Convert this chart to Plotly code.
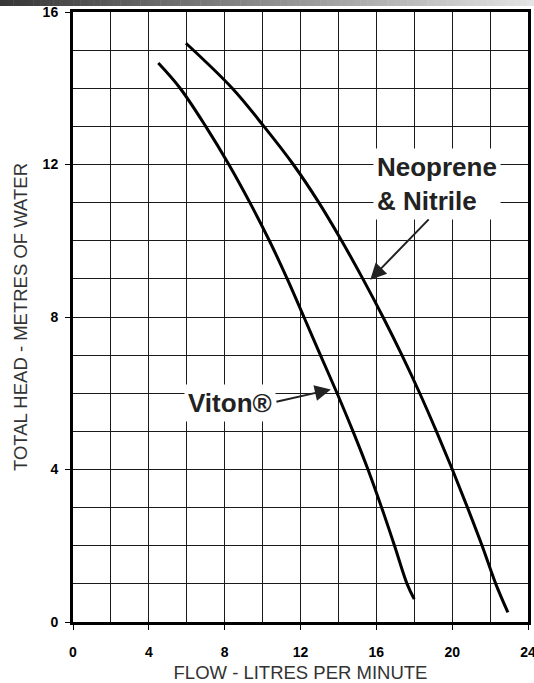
import plotly.graph_objects as go

# ---- data ----
neoprene_flow = [5.96, 8.40, 10.07, 11.62, 12.97, 14.17, 15.29, 16.35, 17.35, 18.29, 19.17, 20.01, 20.81, 21.58, 22.30, 22.94]
neoprene_head = [15.18, 14.0, 13.0, 12.0, 11.0, 10.0, 9.0, 8.0, 7.0, 6.0, 5.0, 4.0, 3.0, 2.0, 1.0, 0.25]

viton_flow = [4.5, 5.65, 7.0, 8.22, 9.33, 10.36, 11.30, 12.18, 13.05, 13.93, 14.77, 15.56, 16.28, 16.96, 17.62, 18.0]
viton_head = [14.66, 14.0, 13.0, 12.0, 11.0, 10.0, 9.0, 8.0, 7.0, 6.0, 5.0, 4.0, 3.0, 2.0, 1.0, 0.6]

x_ticks = [0, 4, 8, 12, 16, 20, 24]
y_ticks = [0, 4, 8, 12, 16]

W, H = 534, 683
ML, MR, MT, MB = 73, 6, 12, 61

fig = go.Figure()
for fx, hy, nm in [(neoprene_flow, neoprene_head, "Neoprene & Nitrile"),
                   (viton_flow, viton_head, "Viton®")]:
    fig.add_trace(go.Scatter(x=fx, y=hy, mode="lines", name=nm,
                             line=dict(color="black", width=3, shape="spline", smoothing=1.0),
                             hoverinfo="skip"))

tickfont = dict(family="Liberation Sans", size=14, color="black", weight="bold")
titlefont = dict(family="Liberation Sans", size=18.5, color="#333333")

fig.update_xaxes(range=[0, 24], tickvals=x_ticks, ticks="outside", ticklen=5, tickwidth=1,
                 tickcolor="black", tickfont=tickfont, ticklabelstandoff=10,
                 ticklabeloverflow="allow",
                 showgrid=True, gridcolor="#1a1a1a", gridwidth=1,
                 minor=dict(dtick=2, tick0=0, showgrid=True, gridcolor="#1a1a1a", gridwidth=1, ticks=""),
                 showline=True, linecolor="black", linewidth=3, mirror=True, zeroline=False,
                 automargin=False,
                 title=dict(text="FLOW - LITRES PER MINUTE", font=titlefont, standoff=8))
fig.update_yaxes(range=[0, 16], tickvals=y_ticks, ticks="outside", ticklen=5, tickwidth=1,
                 tickcolor="black", tickfont=tickfont, ticklabelstandoff=4,
                 ticklabeloverflow="allow",
                 showgrid=True, gridcolor="#1a1a1a", gridwidth=1,
                 minor=dict(dtick=1, tick0=0, showgrid=True, gridcolor="#1a1a1a", gridwidth=1, ticks=""),
                 showline=True, linecolor="black", linewidth=3, mirror=True, zeroline=False,
                 automargin=False,
                 title=dict(text="TOTAL HEAD - METRES OF WATER", font=titlefont, standoff=11))

labelfont = dict(family="Liberation Sans", size=26, color="#222222", weight="bold")
fig.add_annotation(x=19.2, y=11.5, xref="x", yref="y", text="Neoprene<br>& Nitrile",
                   align="left", showarrow=False, font=labelfont, bgcolor="white", borderpad=3)
fig.add_annotation(x=8.29, y=5.74, xref="x", yref="y", text="Viton®",
                   showarrow=False, font=labelfont, bgcolor="white", borderpad=3)
# arrows
fig.add_annotation(x=15.68, y=8.98, ax=18.84, ay=10.6, xref="x", yref="y", axref="x", ayref="y",
                   text="", showarrow=True, arrowhead=2, arrowsize=1.6, arrowwidth=2,
                   arrowcolor="#222222", standoff=0)
fig.add_annotation(x=13.6, y=6.1, ax=10.65, ay=5.77, xref="x", yref="y", axref="x", ayref="y",
                   text="", showarrow=True, arrowhead=2, arrowsize=1.6, arrowwidth=2,
                   arrowcolor="#222222", standoff=0)

# top gradient bar (decoration)
pw = W - ML - MR
ph = H - MT - MB
n = 80
for i in range(n):
    x0 = -ML / pw + (W / pw) * i / n
    x1 = -ML / pw + (W / pw) * (i + 1) / n + 0.001
    t = i / (n - 1)
    c = int(55 + (228 - 55) * t)
    fig.add_shape(type="rect", xref="paper", yref="paper", x0=x0, x1=x1,
                  y0=1 + 6 / ph, y1=1 + MT / ph + 0.01, line=dict(width=0),
                  fillcolor=f"rgb({c},{c},{c})", layer="above")

fig.update_layout(width=W, height=H, margin=dict(l=ML, r=MR, t=MT, b=MB),
                  paper_bgcolor="white", plot_bgcolor="white", showlegend=False)

fig.write_html("out.html", config={"displayModeBar": False},
               post_script="document.body.style.margin='0';document.body.style.overflow='hidden';")
